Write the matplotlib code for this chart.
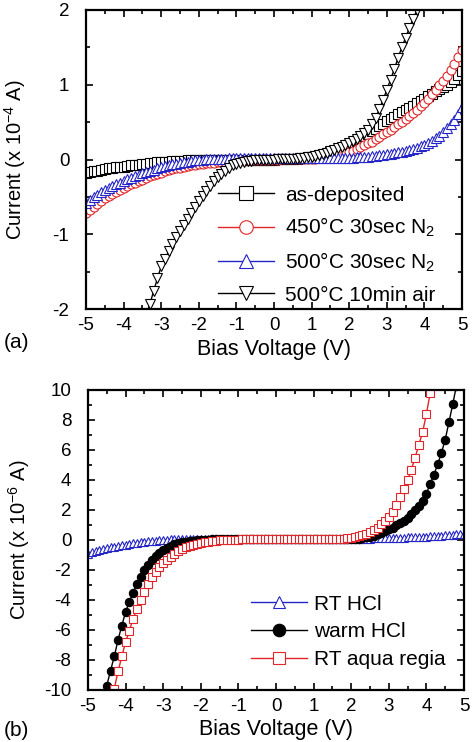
import matplotlib
matplotlib.use('Agg')
import matplotlib.pyplot as plt
import numpy as np
from matplotlib.ticker import MultipleLocator

plt.rcParams['font.family'] = ['Liberation Sans', 'DejaVu Sans']
plt.rcParams['mathtext.fontset'] = 'custom'
plt.rcParams['mathtext.rm'] = 'Liberation Sans'
plt.rcParams['mathtext.default'] = 'regular'
plt.rcParams['axes.unicode_minus'] = False

# voltage sweep, 0.1 V steps
bias = np.round(np.arange(-50, 51) / 10, 1)

# (a) current in 1e-4 A
as_deposited = [
    -0.18, -0.17, -0.16, -0.15, -0.14, -0.13, -0.12, -0.11, -0.105, -0.10,
    -0.095, -0.088, -0.08, -0.074, -0.068, -0.062, -0.056, -0.05, -0.045, -0.04,
    -0.036, -0.032, -0.028, -0.024, -0.02, -0.017, -0.014, -0.012, -0.01, -0.008,
    -0.006, -0.005, -0.004, -0.004, -0.003, -0.003, -0.002, -0.002, -0.002, -0.001,
    -0.001, -0.001, -0.001, 0.0, 0.0, 0.0, 0.0, 0.0, 0.0, 0.0,
    0.0, 0.001, 0.002, 0.004, 0.006, 0.009, 0.013, 0.018, 0.024, 0.031,
    0.039, 0.048, 0.058, 0.07, 0.083, 0.1, 0.115, 0.13, 0.15, 0.165,
    0.185, 0.215, 0.245, 0.28, 0.31, 0.345, 0.375, 0.41, 0.445, 0.475,
    0.51, 0.54, 0.575, 0.605, 0.635, 0.66, 0.69, 0.72, 0.75, 0.785,
    0.815, 0.85, 0.88, 0.91, 0.94, 0.97, 1.0, 1.04, 1.08, 1.13, 1.18]
n2_450 = [
    -0.72, -0.68, -0.64, -0.60, -0.56, -0.52, -0.49, -0.46, -0.43, -0.41,
    -0.38, -0.355, -0.33, -0.31, -0.29, -0.27, -0.25, -0.225, -0.205, -0.19,
    -0.175, -0.16, -0.145, -0.13, -0.12, -0.11, -0.10, -0.09, -0.08, -0.07,
    -0.064, -0.058, -0.052, -0.047, -0.042, -0.037, -0.033, -0.029, -0.025, -0.022,
    -0.019, -0.016, -0.013, -0.011, -0.009, -0.007, -0.005, -0.004, -0.002, -0.001,
    0.0, 0.0, 0.001, 0.001, 0.002, 0.002, 0.003, 0.004, 0.005, 0.007,
    0.009, 0.012, 0.016, 0.021, 0.027, 0.035, 0.045, 0.057, 0.07, 0.085,
    0.10, 0.12, 0.14, 0.165, 0.19, 0.215, 0.24, 0.27, 0.30, 0.335,
    0.37, 0.40, 0.435, 0.47, 0.505, 0.54, 0.58, 0.62, 0.665, 0.71,
    0.76, 0.815, 0.87, 0.93, 0.99, 1.05, 1.12, 1.2, 1.28, 1.37, 1.46]
n2_500 = [
    -0.58, -0.54, -0.50, -0.47, -0.44, -0.41, -0.38, -0.355, -0.33, -0.31,
    -0.285, -0.265, -0.245, -0.225, -0.205, -0.185, -0.165, -0.15, -0.135, -0.12,
    -0.105, -0.09, -0.077, -0.065, -0.055, -0.045, -0.035, -0.027, -0.02, -0.013,
    -0.007, -0.002, 0.002, 0.005, 0.008, 0.01, 0.012, 0.013, 0.014, 0.015,
    0.015, 0.015, 0.015, 0.015, 0.015, 0.015, 0.015, 0.015, 0.015, 0.015,
    0.015, 0.015, 0.015, 0.015, 0.015, 0.015, 0.015, 0.015, 0.015, 0.015,
    0.015, 0.015, 0.016, 0.016, 0.017, 0.018, 0.019, 0.02, 0.021, 0.022,
    0.024, 0.026, 0.028, 0.031, 0.034, 0.038, 0.043, 0.05, 0.058, 0.066,
    0.075, 0.08, 0.087, 0.095, 0.105, 0.115, 0.128, 0.142, 0.158, 0.175,
    0.195, 0.22, 0.25, 0.285, 0.32, 0.365, 0.415, 0.47, 0.53, 0.61, 0.70]
air_bias = bias[(bias >= -3.4) & (bias <= 3.9)]
air_500 = [
    -2.08, -1.93, -1.76, -1.59, -1.43, -1.33, -1.23, -1.13, -1.04, -0.96,
    -0.87, -0.79, -0.71, -0.63, -0.56, -0.49, -0.42, -0.35, -0.29, -0.24,
    -0.19, -0.15, -0.11, -0.08, -0.06, -0.045, -0.033, -0.024, -0.017, -0.012,
    -0.008, -0.005, -0.003, -0.001, 0.0, 0.001, 0.003, 0.005, 0.007, 0.01,
    0.013, 0.017, 0.022, 0.028, 0.036, 0.046, 0.058, 0.072, 0.089, 0.108,
    0.128, 0.15, 0.173, 0.197, 0.222, 0.25, 0.28, 0.31, 0.35, 0.40,
    0.47, 0.56, 0.67, 0.80, 0.93, 1.07, 1.21, 1.36, 1.50, 1.63,
    1.76, 1.88, 2.0, 2.12]

# (b) current in 1e-6 A
rt_hcl = [
    -0.9, -0.82, -0.75, -0.68, -0.61, -0.55, -0.49, -0.44, -0.39, -0.34,
    -0.30, -0.26, -0.22, -0.18, -0.15, -0.12, -0.09, -0.06, -0.04, -0.02,
    0.0, 0.02, 0.04, 0.05, 0.06, 0.07, 0.08, 0.09, 0.09, 0.1,
    0.1, 0.1, 0.1, 0.1, 0.1, 0.1, 0.1, 0.1, 0.1, 0.1,
    0.1, 0.1, 0.1, 0.1, 0.1, 0.1, 0.1, 0.1, 0.1, 0.1,
    0.1, 0.1, 0.1, 0.1, 0.1, 0.1, 0.1, 0.1, 0.1, 0.1,
    0.1, 0.1, 0.1, 0.1, 0.1, 0.1, 0.1, 0.1, 0.1, 0.1,
    0.1, 0.1, 0.1, 0.1, 0.1, 0.1, 0.11, 0.11, 0.11, 0.12,
    0.13, 0.13, 0.14, 0.15, 0.16, 0.17, 0.18, 0.19, 0.2, 0.215,
    0.23, 0.245, 0.26, 0.275, 0.29, 0.31, 0.33, 0.35, 0.37, 0.395, 0.42]
warm_bias = bias[(bias >= -4.6) & (bias <= 4.8)]
warm_hcl = [
    -10.7, -9.7, -8.7, -7.75, -6.65, -5.7, -4.8, -4.1, -3.5, -2.9,
    -2.45, -2.0, -1.68, -1.35, -1.07, -0.85, -0.66, -0.5, -0.38, -0.29,
    -0.22, -0.16, -0.11, -0.07, -0.04, -0.02, 0.0, 0.02, 0.03, 0.04,
    0.05, 0.05, 0.05, 0.05, 0.05, 0.05, 0.05, 0.05, 0.05, 0.05,
    0.05, 0.05, 0.05, 0.05, 0.05, 0.05, 0.05, 0.05, 0.05, 0.05,
    0.05, 0.05, 0.05, 0.05, 0.05, 0.05, 0.05, 0.05, 0.05, 0.05,
    0.05, 0.05, 0.05, 0.05, 0.05, 0.05, 0.06, 0.07, 0.09, 0.12,
    0.17, 0.23, 0.3, 0.39, 0.5, 0.61, 0.72, 0.83, 0.97, 1.13,
    1.3, 1.5, 1.75, 2.0, 2.25, 2.6, 3.1, 3.75, 4.35, 5.05,
    5.8, 6.7, 7.85, 9.05, 10.3]
aqua_bias = bias[(bias >= -4.4) & (bias <= 4.2)]
aqua_regia = [
    -11.0, -9.9, -8.75, -7.76, -6.8, -6.04, -5.25, -4.6, -4.0, -3.45,
    -2.9, -2.49, -2.12, -1.8, -1.55, -1.32, -1.1, -0.92, -0.75, -0.6,
    -0.47, -0.38, -0.31, -0.25, -0.2, -0.15, -0.11, -0.08, -0.05, -0.03,
    -0.01, 0.0, 0.01, 0.02, 0.03, 0.04, 0.04, 0.05, 0.05, 0.05,
    0.05, 0.05, 0.05, 0.05, 0.05, 0.05, 0.05, 0.05, 0.05, 0.05,
    0.05, 0.05, 0.05, 0.05, 0.05, 0.05, 0.05, 0.05, 0.05, 0.05,
    0.06, 0.08, 0.1, 0.12, 0.15, 0.2, 0.26, 0.32, 0.41, 0.53,
    0.67, 0.83, 1.04, 1.25, 1.53, 1.88, 2.35, 2.85, 3.43, 4.0,
    4.7, 5.5, 6.35, 7.2, 8.4, 9.8, 11.3]

RED = '#e0262a'
BLUE = '#2424c8'


def style_axes(ax, ymajor, yminor):
    ax.set_xlim(-5, 5)
    ax.xaxis.set_major_locator(MultipleLocator(1))
    ax.xaxis.set_minor_locator(MultipleLocator(0.5))
    ax.yaxis.set_major_locator(MultipleLocator(ymajor))
    ax.yaxis.set_minor_locator(MultipleLocator(yminor))
    ax.tick_params(which='both', direction='in', top=True, right=True, width=1.2)
    ax.tick_params(which='major', length=5)
    ax.tick_params(which='minor', length=3)
    ax.tick_params(axis='x', labelsize=13.5, pad=6)
    ax.tick_params(axis='y', labelsize=13.5, pad=12)
    for sp in ax.spines.values():
        sp.set_linewidth(1.6)


fig = plt.figure(figsize=(4.74, 7.42), dpi=100)

# panel (a)
ax1 = fig.add_axes([86 / 474, 1 - 309 / 742, 376 / 474, 299 / 742])
ms = 6.5
ax1.plot(bias, as_deposited, '-s', color='black', lw=1, ms=ms, mfc='white', mew=0.8,
         label='as-deposited')
ax1.plot(bias, n2_450, '-o', color=RED, lw=1, ms=ms, mfc='white', mew=0.8,
         label='450°C 30sec N$_2$')
ax1.plot(bias, n2_500, '-^', color=BLUE, lw=1, ms=ms, mfc='white', mew=0.8,
         label='500°C 30sec N$_2$')
ax1.plot(air_bias, air_500, '-v', color='black', lw=1, ms=ms, mfc='white', mew=0.8,
         label='500°C 10min air')
ax1.set_ylim(-2, 2)
style_axes(ax1, 1, 0.5)
ax1.set_xlabel('Bias Voltage (V)', fontsize=15.5, labelpad=3)
ax1.set_ylabel('Current (x 10$^{-4}$ A)', fontsize=14.5)
ax1.yaxis.set_label_coords(-0.155, 0.5)
ax1.legend(loc='lower left', bbox_to_anchor=(0.351, 0.015), frameon=False,
           fontsize=15, borderaxespad=0, borderpad=0, handlelength=2.7,
           handletextpad=0.5, labelspacing=0.55, markerscale=1.5)

# panel (b)
ax2 = fig.add_axes([88 / 474, 1 - 690 / 742, 376 / 474, 300 / 742])
ax2.plot(bias, rt_hcl, '-^', color=BLUE, lw=1, ms=6, mfc='white', mew=0.8,
         label='RT HCl')
ax2.plot(warm_bias, warm_hcl, '-o', color='black', lw=1, ms=6, mfc='black', mew=0.8,
         label='warm HCl')
ax2.plot(aqua_bias, aqua_regia, '-s', color=RED, lw=1, ms=6, mfc='white', mew=0.8,
         label='RT aqua regia')
ax2.set_ylim(-10, 10)
style_axes(ax2, 2, 1)
ax2.set_xlabel('Bias Voltage (V)', fontsize=15.5, labelpad=3)
ax2.set_ylabel('Current (x 10$^{-6}$ A)', fontsize=14.5)
ax2.yaxis.set_label_coords(-0.149, 0.5)
ax2.legend(loc='lower left', bbox_to_anchor=(0.434, 0.07), frameon=False,
           fontsize=15, borderaxespad=0, borderpad=0, handlelength=2.7,
           handletextpad=0.3, labelspacing=0.42, markerscale=1.5)

fig.text(4 / 474, 1 - 343 / 742, '(a)', fontsize=15, va='center')
fig.text(4 / 474, 1 - 730 / 742, '(b)', fontsize=15, va='center')

fig.savefig('out.png', dpi=100)
